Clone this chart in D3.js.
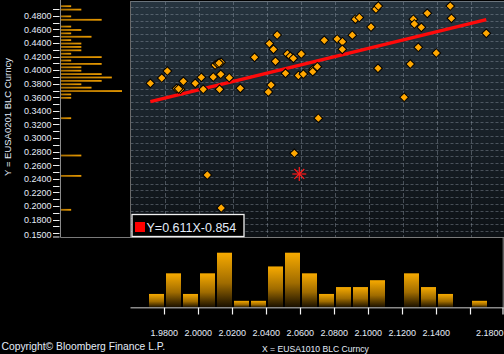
<!DOCTYPE html>
<html><head><meta charset="utf-8">
<script src="https://cdn.jsdelivr.net/npm/d3@7"></script>
<style>html,body{margin:0;padding:0;background:#000;overflow:hidden}svg{display:block}</style>
</head><body><svg id="c" width="504" height="354"></svg>
<script>
// ---- data ----
const xValues = [1.9718,1.9785,1.9818,1.9872,1.9895,1.9912,1.9982,2.0018,2.0029,2.0088,
  2.0099,2.0114,2.0134,2.0132,2.0125,2.0182,2.0247,2.0331,2.0412,2.0428,
  2.0454,2.0442,2.0418,2.0464,2.0513,2.0524,2.0541,2.0559,2.0606,2.0589,
  2.0618,2.0676,2.0673,2.0700,2.0706,2.0741,2.0817,2.0848,2.0847,2.0906,
  2.0924,2.0947,2.1016,2.1045,2.1059,2.1057,2.1211,2.1247,2.1265,2.1271,
  2.1294,2.1312,2.1347,2.1400,2.1482,2.1489,2.1694,2.0053,2.0135,2.0565,
  1.9884,2.0122];
const yValues = [0.3777,0.3855,0.3958,0.3700,0.3689,0.3807,0.3777,0.3865,0.3689,0.3870,
  0.4047,0.4066,0.4086,0.3910,0.3689,0.3860,0.3703,0.4160,0.3649,0.3752,
  0.4101,0.4278,0.4363,0.4489,0.3924,0.4209,0.4175,0.4145,0.4209,0.3892,
  0.3914,0.3983,0.3948,0.4022,0.3263,0.4411,0.4430,0.4390,0.4278,0.4486,
  0.4722,0.4747,0.4607,0.4872,0.4916,0.3998,0.3571,0.4061,0.4722,0.4651,
  0.4308,0.4602,0.4808,0.4224,0.4916,0.4735,0.4514,0.2426,0.1940,0.2746,
  0.3696,0.4076];
const lastX = [2.0594];
const lastY = [0.2441];
const regSlope = 0.611;
const regIntercept = -0.854;
const legendLabel = "Y=0.611X-0.854";

const xTickValues = [1.98,2.00,2.02,2.04,2.06,2.08,2.10,2.12,2.14,2.16,2.18];
const xTickLabels = ["1.9800","2.0000","2.0200","2.0400","2.0600","2.0800","2.1000","2.1200","2.1400","","2.1800"];
const yTickValues = [0.48,0.46,0.44,0.42,0.40,0.38,0.36,0.34,0.32,0.30,0.28,0.26,0.24,0.22,0.20,0.18,0.15];
const yTickLabels = ["0.4800","0.4600","0.4400","0.4200","0.4000","0.3800","0.3600","0.3400","0.3200","0.3000","0.2800","0.2600","0.2400","0.2200","0.2000","0.1800","0.1500"];
const yMinorTicks = [0.49,0.48,0.47,0.46,0.45,0.44,0.43,0.42,0.41,0.40,0.39,0.38,0.37,0.36,0.35,0.34,0.33,0.32,0.31,0.30,0.29,0.28,0.27,0.26,0.25,0.24,0.23,0.22,0.21,0.20,0.19,0.18,0.17,0.16];

const xBinStarts = [1.97,1.98,1.99,2.00,2.01,2.02,2.03,2.04,2.05,2.06,2.07,2.08,2.09,2.10,2.11,2.12,2.13,2.14,2.15,2.16];
const xBinCounts = [2,5,2,5,8,1,1,6,8,5,2,3,3,4,0,5,3,2,0,1];
const yBinStarts = [0.490,0.485,0.475,0.470,0.460,0.455,0.450,0.445,0.440,0.435,0.430,0.425,0.420,0.415,0.410,0.405,0.400,0.395,0.390,0.385,0.380,0.375,0.370,0.365,0.360,0.355,0.325,0.270,0.240,0.190];
const yBinCounts = [1,2,1,4,1,2,1,3,1,2,2,2,1,4,1,4,2,2,4,5,4,2,3,6,1,1,1,2,2,1];

// ---- layout ----
const svg = d3.select("#c");
const W = 504, H = 354;
const plotL = 130.5, plotT = 1, plotB = 237.5, plotR = 504;
const histBase = 307.7;
const leftPanelL = 60.5;
const txtCol = "#e4ecf8";
const font = "Liberation Sans, Arial, sans-serif";

const x = d3.scaleLinear().domain([1.96, 2.18]).range([130.3, 504.3]);
const y = d3.scaleLinear().domain([0.18, 0.48]).range([217.5, 13.9]);

svg.append("rect").attr("width", W).attr("height", H).attr("fill", "#000");

const defs = svg.append("defs");
const bg = defs.append("linearGradient").attr("id","bg").attr("x1",0).attr("y1",0).attr("x2",0).attr("y2",1);
bg.append("stop").attr("offset","0%").attr("stop-color","#26343f");
bg.append("stop").attr("offset","100%").attr("stop-color","#0d1115");
const hg = defs.append("linearGradient").attr("id","hg").attr("x1",0).attr("y1",0).attr("x2",0).attr("y2",1);
hg.append("stop").attr("offset","0%").attr("stop-color","#f7aa00");
hg.append("stop").attr("offset","55%").attr("stop-color","#a06c00");
hg.append("stop").attr("offset","100%").attr("stop-color","#150d00");
const vg = defs.append("linearGradient").attr("id","vg").attr("x1",0).attr("y1",0).attr("x2",1).attr("y2",0);
vg.append("stop").attr("offset","0%").attr("stop-color","#a86e00");
vg.append("stop").attr("offset","100%").attr("stop-color","#e99a00");
defs.append("clipPath").attr("id","clip").append("rect")
  .attr("x", plotL).attr("y", plotT).attr("width", plotR - plotL).attr("height", plotB - plotT);

// main plot background
svg.append("rect").attr("x", plotL).attr("y", plotT).attr("width", plotR - plotL).attr("height", plotB - plotT)
  .attr("fill", "url(#bg)");

// grid
const grid = svg.append("g").attr("clip-path","url(#clip)");
grid.selectAll(".hg").data(yMinorTicks).join("line")
  .attr("x1", plotL).attr("x2", plotR)
  .attr("y1", d => Math.round(y(d)) + 0.5).attr("y2", d => Math.round(y(d)) + 0.5)
  .attr("stroke", "rgba(160,172,184,0.38)").attr("stroke-dasharray", "3,2");
grid.selectAll(".vg").data(xTickValues.slice(0, 10)).join("line")
  .attr("x1", d => Math.round(x(d) + 1) + 0.5).attr("x2", d => Math.round(x(d) + 1) + 0.5)
  .attr("y1", plotT).attr("y2", plotB)
  .attr("stroke", "rgba(160,172,184,0.38)").attr("stroke-dasharray", "4,2");

// borders
svg.append("line").attr("x1", plotL).attr("x2", plotR).attr("y1", plotT + 0.5).attr("y2", plotT + 0.5).attr("stroke", "#6a747c");
svg.append("line").attr("x1", plotL).attr("x2", plotL).attr("y1", plotT).attr("y2", plotB).attr("stroke", "#6a6a6a");
svg.append("line").attr("x1", leftPanelL).attr("x2", plotR).attr("y1", plotB).attr("y2", plotB).attr("stroke", "#7a7a7a");
svg.append("line").attr("x1", leftPanelL).attr("x2", leftPanelL).attr("y1", 0).attr("y2", plotB).attr("stroke", "#8a8a8a");

// regression line
const pts = xValues.map((v, i) => ({x: v, y: yValues[i]}));
const [xmin, xmax] = d3.extent(xValues);
svg.append("line")
  .attr("x1", x(xmin)).attr("y1", y(regSlope * xmin + regIntercept))
  .attr("x2", x(xmax)).attr("y2", y(regSlope * xmax + regIntercept))
  .attr("stroke", "#ff0a0a").attr("stroke-width", 3.4).attr("stroke-linecap", "butt");

// points
const diamond = d3.symbol().type(d3.symbolSquare).size(38);
svg.append("g").attr("clip-path","url(#clip)").selectAll("path").data(pts).join("path")
  .attr("d", diamond)
  .attr("transform", d => `translate(${x(d.x)},${y(d.y)}) rotate(45)`)
  .attr("fill", "#ffa700").attr("stroke", "#000").attr("stroke-width", 1);

// last point asterisk
const ast = svg.append("g").selectAll("g").data(lastX.map((v, i) => ({x: v, y: lastY[i]}))).join("g")
  .attr("transform", d => `translate(${x(d.x)},${y(d.y)})`);
[0, 45, 90, 135].forEach(a => {
  const r = 7, rad = a * Math.PI / 180;
  ast.append("line")
    .attr("x1", -r * Math.cos(rad)).attr("y1", -r * Math.sin(rad))
    .attr("x2", r * Math.cos(rad)).attr("y2", r * Math.sin(rad))
    .attr("stroke", "#ff1a1a").attr("stroke-width", 1.2);
});

// legend
const lg = svg.append("g");
lg.append("rect").attr("x", 132).attr("y", 214.5).attr("width", 112).attr("height", 22)
  .attr("fill", "#000").attr("stroke", "#f0f0f0").attr("stroke-width", 1.3);
lg.append("rect").attr("x", 135).attr("y", 222).attr("width", 10).attr("height", 10).attr("fill", "#ff0000");
lg.append("text").attr("x", 146.5).attr("y", 231.6).attr("fill", txtCol)
  .attr("font-family", font).attr("font-size", 12.5).text(legendLabel);

// y axis ticks & labels
svg.selectAll(".ytk").data(yMinorTicks).join("line")
  .attr("x1", 53).attr("x2", 59.5)
  .attr("y1", d => Math.round(y(d) + 2) + 0.5).attr("y2", d => Math.round(y(d) + 2) + 0.5)
  .attr("stroke", "#f0f0f0");
svg.append("line").attr("x1", 53).attr("x2", 59.5).attr("y1", plotB - 0.5).attr("y2", plotB - 0.5).attr("stroke", "#f0f0f0");
svg.selectAll(".ylab").data(yTickValues).join("text")
  .attr("x", 51.5).attr("y", d => Math.min(y(d) + 2, plotB - 2.8) + 3.3)
  .attr("text-anchor", "end").attr("fill", txtCol)
  .attr("font-family", font).attr("font-size", 9)
  .text((d, i) => yTickLabels[i]);

// y title
svg.append("text").attr("transform", "translate(11,117) rotate(-90)")
  .attr("text-anchor", "middle").attr("fill", txtCol)
  .attr("font-family", font).attr("font-size", 9.5).text("Y = EUSA0201 BLC Curncy");

// left (y) histogram
const hy = d3.scaleLinear().domain([0, 6]).range([61, 122]);
svg.selectAll(".yb").data(yBinStarts).join("rect")
  .attr("x", hy(0)).attr("y", d => y(d) - 1.8)
  .attr("width", (d, i) => hy(yBinCounts[i]) - hy(0)).attr("height", 1.8)
  .attr("fill", "url(#vg)");

// bottom (x) histogram
const hx = d3.scaleLinear().domain([0, 8]).range([histBase, histBase - 55]);
svg.selectAll(".xb").data(xBinStarts).join("rect")
  .attr("x", d => x(d) + 1.7)
  .attr("y", (d, i) => hx(xBinCounts[i]))
  .attr("width", d => x(d + 0.01) - x(d) - 2)
  .attr("height", (d, i) => histBase - hx(xBinCounts[i]))
  .attr("fill", "url(#hg)");
svg.append("line").attr("x1", plotL).attr("x2", plotR).attr("y1", histBase).attr("y2", histBase)
  .attr("stroke", "#8a8a8a").attr("stroke-width", 1.4);
svg.append("line").attr("x1", 503.2).attr("x2", 503.2).attr("y1", plotB).attr("y2", histBase).attr("stroke", "#8a8a8a");

// x ticks & labels
svg.selectAll(".xtk").data(xTickValues).join("line")
  .attr("x1", d => Math.min(Math.round(x(d)) + 0.5, 503)).attr("x2", d => Math.min(Math.round(x(d)) + 0.5, 503))
  .attr("y1", histBase).attr("y2", 314.5)
  .attr("stroke", "#f4f4f4").attr("stroke-width", 1.2);
svg.selectAll(".xlab").data(xTickValues).join("text")
  .attr("x", d => x(d) > 495 ? 503.5 : x(d))
  .attr("y", 335.5)
  .attr("text-anchor", d => x(d) > 495 ? "end" : "middle")
  .attr("fill", txtCol).attr("font-family", font).attr("font-size", 9)
  .text((d, i) => xTickLabels[i]);

// titles
svg.append("text").attr("x", 262).attr("y", 351.5).attr("fill", txtCol)
  .attr("font-family", font).attr("font-size", 8.6).text("X = EUSA1010 BLC Curncy");
svg.append("text").attr("x", 1.5).attr("y", 350).attr("fill", txtCol)
  .attr("font-family", font).attr("font-size", 10.3).text("Copyright\u00A9 Bloomberg Finance L.P.");
</script>
</body></html>
